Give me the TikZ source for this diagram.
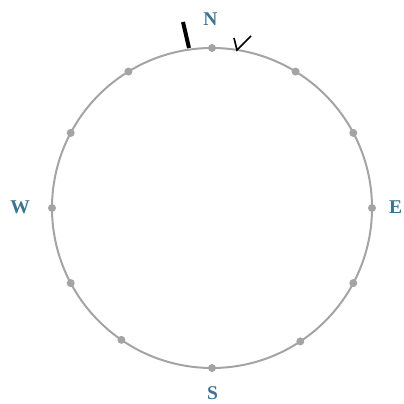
\documentclass[tikz,border=0pt]{standalone}
\usepackage{fontspec}
\setmainfont{Liberation Serif}
\usetikzlibrary{calc}
\definecolor{ringgray}{HTML}{A4A4A4}
\definecolor{labelblue}{HTML}{3D7591}
\begin{document}
\begin{tikzpicture}[x=1pt,y=1pt,
  ring/.style={draw=ringgray,line width=2pt},
  tickdot/.style={circle,fill=ringgray,inner sep=0pt,minimum size=8pt},
  compasslabel/.style={text=labelblue,font=\fontsize{19.5}{20}\selectfont\bfseries,inner sep=0pt},
  heavymark/.style={draw=black,line width=4pt},
  lightmark/.style={draw=black,line width=1.6pt,line join=miter}]
\useasboundingbox (0,0) rectangle (404,404);
\coordinate (C) at (212,196);
\draw[ring] (C) circle[radius=160];
\foreach \a/\n in {0/d0,28/d1,58.5/d2,90/d3,121.5/d4,152/d5,180/d6,208/d7,235.5/d8,270/d9,303.5/d10,332/d11}
  \node[tickdot] (\n) at ($(C)+(\a:160)$) {};
\node[compasslabel] (N) at (210.5,385) {N};
\node[compasslabel] (E) at (395.5,197) {E};
\node[compasslabel] (S) at (212.5,10.5) {S};
\node[compasslabel] (W) at (20,197) {W};
\draw[heavymark] (189,356) -- (183,382);
\draw[lightmark] (234,366) -- (237,354) -- (251,368);
\end{tikzpicture}
\end{document}
